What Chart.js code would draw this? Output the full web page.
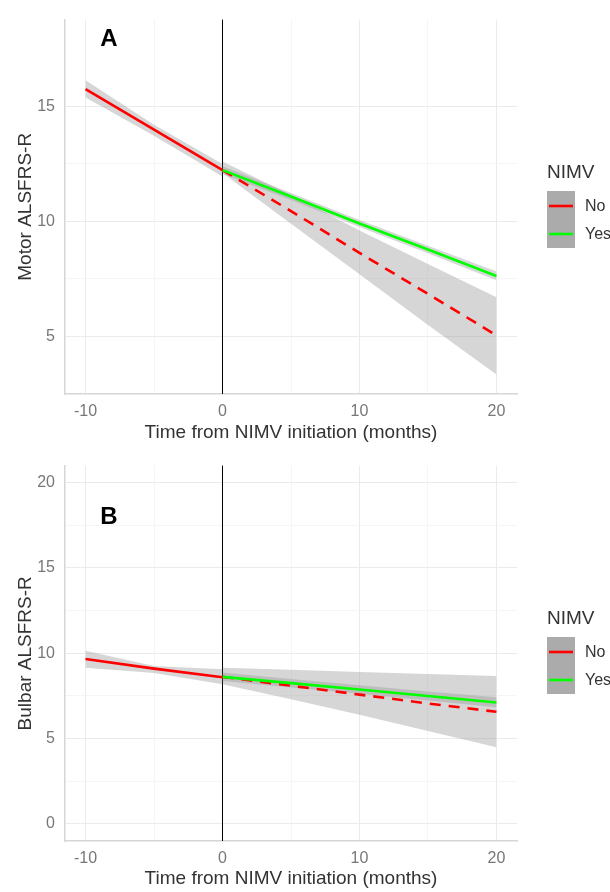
<!DOCTYPE html>
<html>
<head>
<meta charset="utf-8">
<script src="https://cdn.jsdelivr.net/npm/chart.js@4"></script>
<style>
  body { margin: 0; background: #fff; }
  .panel { position: absolute; left: 0; width: 610px; height: 446px; }
</style>
</head>
<body>
<div class="panel" style="top:0"><canvas id="motorChart" width="610" height="446"></canvas></div>
<div class="panel" style="top:446px"><canvas id="bulbarChart" width="610" height="446"></canvas></div>
<script>
// months relative to NIMV start
let preMonths = [-10, -5, 0];
let postMonths = [0, 5, 10, 15, 20];
let xTicks = [-10, 0, 10, 20];

// panel A - motor
let motorPre = [15.75, 13.99, 12.23];
let motorPreHi = [16.13, 14.2, 12.5];
let motorPreLo = [15.38, 13.72, 11.95];
let motorYes = [12.23, 11.08, 9.91, 8.78, 7.63];
let motorYesHi = [12.4, 11.23, 10.06, 8.94, 7.82];
let motorYesLo = [12.06, 10.93, 9.76, 8.62, 7.44];
let motorNo = [12.23, 10.45, 8.63, 6.85, 5.05];
let motorNoHi = [12.6, 11.15, 9.6, 8.15, 6.7];
let motorNoLo = [12.1, 9.9, 7.7, 5.5, 3.35];
let motorYTicks = [5, 10, 15];

// panel B - bulbar
let bulbarPre = [9.67, 9.1, 8.6];
let bulbarPreHi = [10.15, 9.25, 9.07];
let bulbarPreLo = [9.16, 8.85, 8.18];
let bulbarYes = [8.62, 8.25, 7.88, 7.5, 7.12];
let bulbarYesHi = [8.87, 8.5, 8.13, 7.76, 7.42];
let bulbarYesLo = [8.37, 8.0, 7.63, 7.24, 6.84];
let bulbarNo = [8.62, 8.1, 7.58, 7.06, 6.57];
let bulbarNoHi = [9.15, 9.03, 8.9, 8.78, 8.67];
let bulbarNoLo = [8.18, 7.3, 6.4, 5.45, 4.5];
let bulbarYTicks = [0, 5, 10, 15, 20];

let groups = ["No", "Yes"];
let groupColors = ["#FF0000", "#00FF00"];

const FONT = "'Liberation Sans', Arial, sans-serif";

function pts(xs, ys) {
  return xs.map((x, i) => ({ x: x, y: ys[i] }));
}

function line(xs, ys, color, dashed) {
  return {
    data: pts(xs, ys),
    borderColor: color,
    borderWidth: 2.6,
    borderDash: dashed ? [11, 8] : [],
    pointRadius: 0,
    fill: false,
  };
}

function band(xs, hi, lo) {
  return [
    { data: pts(xs, hi), borderWidth: 0, pointRadius: 0, fill: "+1", backgroundColor: "rgba(153,153,153,0.4)" },
    { data: pts(xs, lo), borderWidth: 0, pointRadius: 0, fill: false },
  ];
}

function withMinor(majors) {
  let all = [];
  majors.forEach((v, i) => {
    all.push(v);
    if (i < majors.length - 1) all.push((v + majors[i + 1]) / 2);
  });
  return all;
}

let panelExtras = {
  id: "panelExtras",
  beforeDatasetsDraw(chart) {
    let ctx = chart.ctx;
    let area = chart.chartArea;
    let x0 = chart.scales.x.getPixelForValue(0);
    ctx.save();
    ctx.strokeStyle = "#000";
    ctx.lineWidth = 1;
    ctx.beginPath();
    ctx.moveTo(x0, area.top);
    ctx.lineTo(x0, area.bottom);
    ctx.stroke();
    ctx.restore();
  },
  afterDatasetsDraw(chart, args, opts) {
    let ctx = chart.ctx;
    ctx.save();
    // panel letter
    ctx.fillStyle = "#000";
    ctx.font = "bold 24px " + FONT;
    ctx.textAlign = "center";
    ctx.textBaseline = "middle";
    ctx.fillText(opts.letter, chart.scales.x.getPixelForValue(-8.3), chart.scales.y.getPixelForValue(opts.letterY));

    // legend
    let lx = 547, top = opts.legendTop;
    ctx.textAlign = "left";
    ctx.fillStyle = "#333";
    ctx.font = "19px " + FONT;
    ctx.fillText("NIMV", lx, top - 18);
    ctx.fillStyle = "#ababab";
    ctx.fillRect(lx, top, 28, 57);
    groups.forEach((g, i) => {
      let y = top + 15 + i * 28;
      ctx.strokeStyle = groupColors[i];
      ctx.lineWidth = 2.6;
      ctx.beginPath();
      ctx.moveTo(lx + 2, y);
      ctx.lineTo(lx + 26, y);
      ctx.stroke();
      ctx.fillStyle = "#333";
      ctx.font = "16px " + FONT;
      ctx.fillText(g, lx + 38, y + 1);
    });
    ctx.restore();
  },
};

function makeChart(id, s, yMin, yMax, yMajors, yTitle, letter, letterY, topPad, xHeight) {
  let yAll = withMinor(yMajors);
  let xAll = withMinor(xTicks);
  let datasets = [
    line(preMonths, s.pre, groupColors[0], false),
    line(postMonths, s.yes, groupColors[1], false),
    line(postMonths, s.no, groupColors[0], true),
  ]
    .concat(band(postMonths, s.yesHi, s.yesLo))
    .concat(band(postMonths, s.noHi, s.noLo))
    .concat(band(preMonths, s.preHi, s.preLo));

  return new Chart(document.getElementById(id), {
    type: "line",
    data: { datasets: datasets },
    plugins: [panelExtras],
    options: {
      responsive: false,
      animation: false,
      layout: { padding: { left: 0, top: topPad, right: 93, bottom: 0 } },
      plugins: {
        legend: { display: false },
        tooltip: { enabled: false },
        panelExtras: { letter: letter, letterY: letterY, legendTop: 191 },
      },
      scales: {
        x: {
          type: "linear",
          min: -11.5,
          max: 21.5,
          afterBuildTicks: (scale) => { scale.ticks = xAll.map((v) => ({ value: v })); },
          afterFit: (scale) => { scale.height = xHeight; },
          ticks: {
            autoSkip: false,
            maxRotation: 0,
            padding: 8,
            color: "#777",
            font: { family: FONT, size: 16 },
            callback: (v) => (xTicks.includes(v) ? String(v) : ""),
          },
          grid: {
            drawTicks: false,
            color: (c) => (c.tick && xTicks.includes(c.tick.value) ? "#EBEBEB" : "#F5F5F5"),
          },
          border: { display: true, color: "#D6D6D6", width: 1.5 },
          title: {
            display: true,
            text: "Time from NIMV initiation (months)",
            color: "#333",
            font: { family: FONT, size: 19 },
            padding: { top: 0, bottom: 2 },
          },
        },
        y: {
          type: "linear",
          min: yMin,
          max: yMax,
          afterBuildTicks: (scale) => { scale.ticks = yAll.map((v) => ({ value: v })); },
          afterFit: (scale) => { scale.width = 65; },
          ticks: {
            autoSkip: false,
            padding: 10,
            color: "#777",
            font: { family: FONT, size: 16 },
            callback: (v) => (yMajors.includes(v) ? String(v) : ""),
          },
          grid: {
            drawTicks: false,
            color: (c) => (c.tick && yMajors.includes(c.tick.value) ? "#EBEBEB" : "#F5F5F5"),
          },
          border: { display: true, color: "#D6D6D6", width: 1.5 },
          title: {
            display: true,
            text: yTitle,
            color: "#333",
            font: { family: FONT, size: 19 },
            padding: { top: 14, bottom: 0 },
          },
        },
      },
    },
  });
}

makeChart(
  "motorChart",
  { pre: motorPre, preHi: motorPreHi, preLo: motorPreLo, yes: motorYes, yesHi: motorYesHi, yesLo: motorYesLo, no: motorNo, noHi: motorNoHi, noLo: motorNoLo },
  2.5, 18.77, motorYTicks, "Motor ALSFRS-R", "A", 17.9, 15, 52
);

makeChart(
  "bulbarChart",
  { pre: bulbarPre, preHi: bulbarPreHi, preLo: bulbarPreLo, yes: bulbarYes, yesHi: bulbarYesHi, yesLo: bulbarYesLo, no: bulbarNo, noHi: bulbarNoHi, noLo: bulbarNoLo },
  -1, 21, bulbarYTicks, "Bulbar ALSFRS-R", "B", 17.95, 17, 51
);
</script>
</body>
</html>
